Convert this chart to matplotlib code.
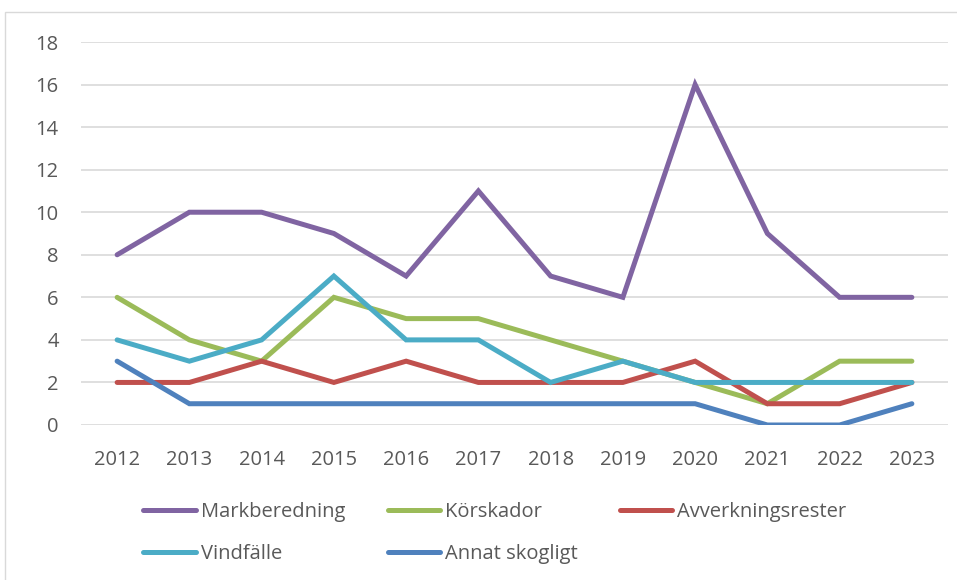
import matplotlib
matplotlib.use("Agg")
import matplotlib.pyplot as plt
from matplotlib.patches import Rectangle

years = ["2012", "2013", "2014", "2015", "2016", "2017", "2018", "2019", "2020", "2021", "2022", "2023"]
markberedning = [8, 10, 10, 9, 7, 11, 7, 6, 16, 9, 6, 6]
korskador = [6, 4, 3, 6, 5, 5, 4, 3, 2, 1, 3, 3]
avverkningsrester = [2, 2, 3, 2, 3, 2, 2, 2, 3, 1, 1, 2]
vindfalle = [4, 3, 4, 7, 4, 4, 2, 3, 2, 2, 2, 2]
annat = [3, 1, 1, 1, 1, 1, 1, 1, 1, 0, 0, 1]
yticks = [0, 2, 4, 6, 8, 10, 12, 14, 16, 18]

series = [
    ("Markberedning", markberedning, "#8064A2"),
    ("Körskador", korskador, "#9BBB59"),
    ("Avverkningsrester", avverkningsrester, "#C0504D"),
    ("Vindfälle", vindfalle, "#4BACC6"),
    ("Annat skogligt", annat, "#4F81BD"),
]

plt.rcParams['font.family'] = ['Open Sans', 'DejaVu Sans']
txt = "#595959"

fig = plt.figure(figsize=(9.57, 5.8), dpi=100)
fig.patches.append(Rectangle((5/957, -0.05), 1.1, 1 - 12/580 + 0.05, transform=fig.transFigure,
                             fill=False, edgecolor="#D9D9D9", linewidth=1.0))
ax = fig.add_axes([81/957, 1 - 425/580, (948 - 81)/957, (425 - 42)/580])

x = list(range(len(years)))
handles = {}
for name, vals, col in series:
    h, = ax.plot(x, vals, color=col, linewidth=3.6, solid_capstyle='round',
                 solid_joinstyle='miter', label=name)
    handles[name] = h

ax.set_xlim(-0.5, len(years) - 0.5)
ax.set_ylim(0, 18)
ax.set_yticks(yticks)
ax.set_xticks(x)
ax.set_xticklabels(years)
ax.grid(axis='y', color="#D9D9D9", linewidth=1.2)
ax.set_axisbelow(True)
for s in ax.spines.values():
    s.set_visible(False)
ax.tick_params(axis='both', length=0, labelsize=14.5, colors=txt)
ax.tick_params(axis='x', pad=18)
ax.tick_params(axis='y', pad=16)

order = ["Markberedning", "Vindfälle", "Körskador", "Annat skogligt", "Avverkningsrester"]
leg = fig.legend([handles[n] for n in order], order, ncol=3, loc='center',
                 bbox_to_anchor=(495/957, 1 - 533/580), frameon=False,
                 fontsize=14.5, handlelength=2.6, handletextpad=0.25,
                 columnspacing=2.1, labelspacing=1.1)
for t in leg.get_texts():
    t.set_color(txt)

fig.savefig("out.png", dpi=100)
